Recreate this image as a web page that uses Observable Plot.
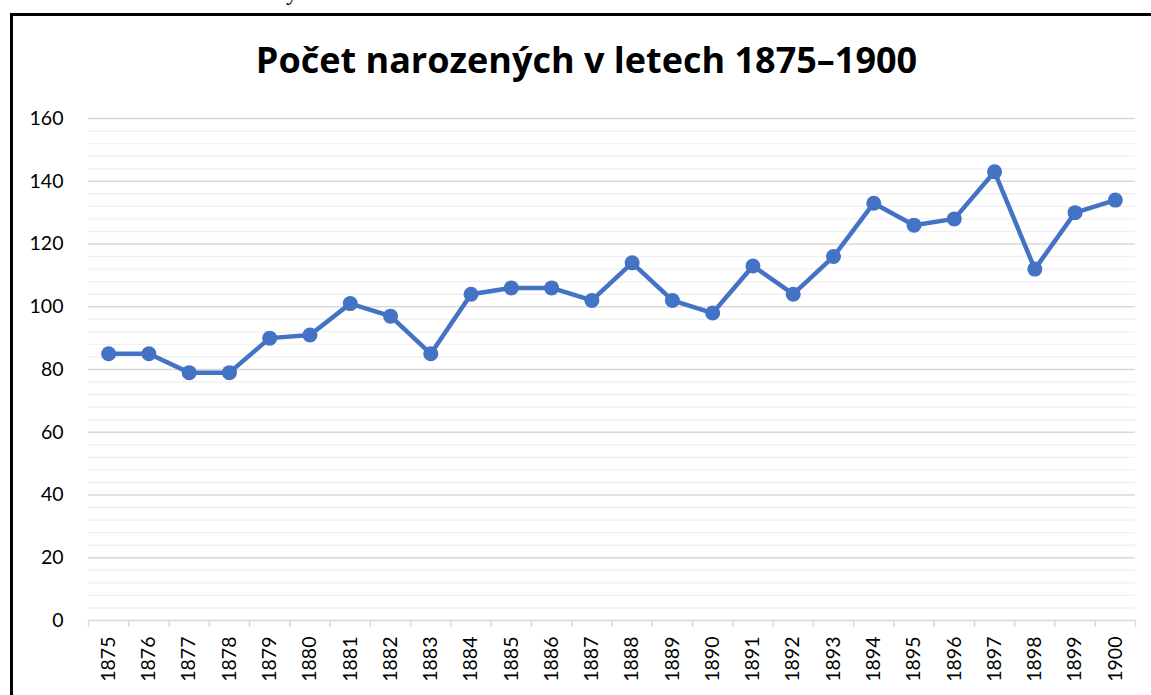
<!DOCTYPE html>
<html><head><meta charset="utf-8">
<script src="https://cdn.jsdelivr.net/npm/d3@7"></script>
<script src="https://cdn.jsdelivr.net/npm/@observablehq/plot@0.6"></script>
<style>
html,body{margin:0;padding:0;width:1151px;height:695px;overflow:hidden;background:#fff;position:relative;}
#lineTop{position:absolute;left:10px;top:13px;width:1141px;height:3px;background:#000;}
#lineLeft{position:absolute;left:10px;top:13px;width:3px;height:682px;background:#000;}
#above{position:absolute;left:286px;top:-20px;font-family:"Liberation Serif";font-size:24px;line-height:24px;color:#000;}
#title{position:absolute;left:0;top:42px;width:1173px;text-align:center;font-family:"Open Sans";font-weight:bold;font-size:36px;line-height:36px;color:#000;white-space:nowrap;}
#chart{position:absolute;left:0;top:95px;}
</style></head>
<body>
<div id="above">y</div>
<div id="lineTop"></div>
<div id="lineLeft"></div>
<div id="title">Počet narozených v letech 1875–1900</div>
<div id="chart"></div>
<script>
const years = [1875,1876,1877,1878,1879,1880,1881,1882,1883,1884,1885,1886,1887,1888,1889,1890,1891,1892,1893,1894,1895,1896,1897,1898,1899,1900];
const births = [85,85,79,79,90,91,101,97,85,104,106,106,102,114,102,98,113,104,116,133,126,128,143,112,130,134];
const yMajorTicks = [0,20,40,60,80,100,120,140,160];
const yMinorStep = 4;

const data = years.map((y,i)=>({year:y, value:births[i]}));
const yMinorTicks = d3.range(0,161,yMinorStep).filter(v=>v%20!==0);
const boundaries = years.map(y=>y-0.5).concat([years[years.length-1]+0.5]);

const chart = Plot.plot({
  width:1151, height:600,
  marginLeft:88, marginRight:16, marginTop:23, marginBottom:75,
  style:{fontFamily:"Lato", fontSize:"19.5px", color:"#000", background:"transparent", overflow:"visible"},
  x:{type:"linear", domain:[years[0]-0.5, years[years.length-1]+0.5]},
  y:{domain:[0,160]},
  marks:[
    Plot.ruleY(yMinorTicks,{stroke:"#f0f0f0", strokeWidth:1.4}),
    Plot.ruleY(yMajorTicks,{stroke:"#d9d9d9", strokeWidth:1.4}),
    Plot.axisY({ticks:yMajorTicks, tickSize:0, tickPadding:25, label:null, fill:"#000"}),
    Plot.axisX({ticks:boundaries, tickSize:7, tickFormat:()=>"", stroke:"#d9d9d9", strokeWidth:1.4, label:null}),
    Plot.axisX({ticks:years, tickSize:0, tickPadding:16, tickRotate:-90, tickFormat:d=>String(d), label:null, fill:"#000"}),
    Plot.lineY(data,{x:"year", y:"value", stroke:"#4472C4", strokeWidth:4.5, strokeLinejoin:"round"}),
    Plot.dot(data,{x:"year", y:"value", fill:"#4472C4", r:7.5, stroke:"none"})
  ]
});
document.getElementById("chart").appendChild(chart);
</script>
</body></html>
